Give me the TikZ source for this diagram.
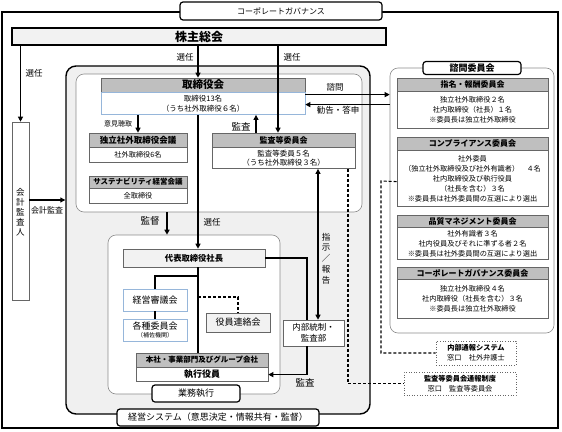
\documentclass[tikz,border=0pt]{standalone}
\usepackage{fontspec}
\setmainfont{Noto Sans CJK JP}
\usetikzlibrary{arrows.meta,positioning}
\definecolor{lineblue}{RGB}{150,182,218}
\tikzset{
  every picture/.style={line width=0.75pt},
  outerframe/.style={draw=black, line width=1.4pt},
  panel/.style={draw=black!45, line width=0.6pt, rounded corners=8pt, fill=white, inner sep=0pt},
  tag/.style={draw=black, line width=1.2pt, rounded corners=3pt, fill=white, inner sep=0pt},
  head/.style={draw=black!60, line width=0.6pt, fill=black!25, inner sep=0pt, font=\bfseries\fontsize{8}{9}\selectfont},
  body/.style={draw=black!60, line width=0.6pt, fill=white, inner sep=0pt, align=center, font=\fontsize{7.2}{10}\selectfont},
  lightbox/.style={draw=black!60, line width=0.6pt, fill=black!5, inner sep=0pt, align=center},
  bluebox/.style={draw=lineblue, line width=0.8pt, fill=white, inner sep=0pt, align=center},
  mailbox/.style={draw=black!60, line width=0.6pt, dotted, fill=white, inner sep=0pt, align=center, font=\fontsize{7.2}{10}\selectfont},
  link/.style={line width=1.1pt},
  arr/.style={line width=1.1pt, -{Triangle[length=5pt,width=5pt]}},
  dlink/.style={line width=1.1pt, dash pattern=on 3pt off 2pt},
  lbl/.style={inner sep=0pt, font=\fontsize{8.5}{9}\selectfont},
}

\begin{document}
\begin{tikzpicture}[x=1pt,y=-1pt]
    \useasboundingbox (0,0) rectangle (562,431);

    % Corporate governance frame
    \draw[outerframe] (2,12) rectangle (558,428);

    % Frames
    \node[outerframe, rounded corners=10pt, fill=black!6, minimum width=304pt, minimum height=348pt] (mainframe) at (218,240) {};
    \node[panel, minimum width=286pt, minimum height=138pt] (boardframe) at (219,143) {};
    \node[panel, minimum width=172pt, minimum height=159pt] (opsframe) at (194,314.5) {};
    \node[panel, minimum width=164pt, minimum height=265pt] (advframe) at (472,200.5) {};

    % Shareholders meeting and auditor
    \node[lightbox, draw=black, line width=1.2pt, minimum width=374pt, minimum height=17pt, font=\bfseries\fontsize{12}{12}\selectfont] (gsm) at (199,36.5) {株主総会};
    \node[draw=black!60, line width=0.6pt, fill=white, inner sep=0pt, minimum width=17pt, minimum height=178pt] (auditor) at (20.5,211) {};
    \foreach \c [count=\i] in {会,計,監,査,人}
        \node[lbl] (auditor\i) at (20.5,{192+10*(\i-1)}) {\c};

    % Board and its meetings
    \node[head, minimum width=204pt, minimum height=14pt, font=\bfseries\fontsize{10.5}{11}\selectfont] (boardh) at (203,85) {取締役会};
    \node[body, draw=lineblue, minimum width=204pt, minimum height=22pt, below=0pt of boardh, font=\fontsize{7.5}{9.5}\selectfont] (boardb) {取締役13名\\（うち社外取締役６名）};
    \node[head, minimum width=98pt, minimum height=14pt, font=\bfseries\fontsize{8.5}{9}\selectfont] (indh) at (138,140) {独立社外取締役会議};
    \node[body, minimum width=98pt, minimum height=15pt, below=0pt of indh] (indb) {社外取締役6名};
    \node[head, minimum width=98pt, minimum height=12pt, font=\bfseries\fontsize{7.5}{9}\selectfont] (sush) at (138,182) {サステナビリティ経営会議};
    \node[body, minimum width=98pt, minimum height=15pt, below=0pt of sush] (susb) {全取締役};
    \node[head, minimum width=143pt, minimum height=14pt] (acomh) at (283.5,140) {監査等委員会};
    \node[body, minimum width=143pt, minimum height=21pt, below=0pt of acomh, font=\fontsize{7.5}{9.5}\selectfont] (acomb) {監査等委員５名\\（うち社外取締役３名）};

    % Execution
    \node[lightbox, minimum width=142pt, minimum height=18pt, font=\bfseries\fontsize{8.3}{9}\selectfont] (pres) at (194,258) {代表取締役社長};
    \node[bluebox, minimum width=64pt, minimum height=22pt, font=\fontsize{9}{10}\selectfont] (council) at (155,300) {経営審議会};
    \node[bluebox, minimum width=64pt, minimum height=22pt, font=\fontsize{9}{9}\selectfont] (comms) at (155,330) {各種委員会\\[-1pt]{\fontsize{6}{7}\selectfont （補佐機関）}};
    \node[lightbox, minimum width=64pt, minimum height=19pt, font=\fontsize{9}{10}\selectfont] (liaison) at (238,322.5) {役員連絡会};
    \node[head, minimum width=132pt, minimum height=14pt, font=\bfseries\fontsize{7.5}{9}\selectfont] (hqh) at (202,360) {本社・事業部門及びグループ会社};
    \node[body, minimum width=132pt, minimum height=14pt, below=0pt of hqh, font=\bfseries\fontsize{9}{10}\selectfont] (hqb) {執行役員};
    \node[body, minimum width=61pt, minimum height=26pt, font=\fontsize{8.5}{10.5}\selectfont] (internal) at (313.5,333) {内部統制・\\監査部};

    % Advisory committees
    \node[head, minimum width=151pt, minimum height=13pt] (nomh) at (472.5,84.5) {指名・報酬委員会};
    \node[body, minimum width=151pt, minimum height=37pt, below=0pt of nomh] (nomb) {独立社外取締役２名\\社内取締役（社長）１名\\※委員長は独立社外取締役};
    \node[head, minimum width=151pt, minimum height=13pt] (comph) at (472.5,143.5) {コンプライアンス委員会};
    \node[body, minimum width=151pt, minimum height=56pt, below=0pt of comph] (compb) {社外委員\\（独立社外取締役及び社外有識者）　４名\\社内取締役及び執行役員\\（社長を含む）３名\\※委員長は社外委員間の互選により選出};
    \node[head, minimum width=151pt, minimum height=12pt] (qualh) at (472.5,221) {品質マネジメント委員会};
    \node[body, minimum width=151pt, minimum height=32pt, below=0pt of qualh] (qualb) {社外有識者３名\\社内役員及びそれに準ずる者２名\\※委員長は社外委員間の互選により選出};
    \node[head, minimum width=151pt, minimum height=12pt] (cgch) at (472.5,273) {コーポレートガバナンス委員会};
    \node[body, minimum width=151pt, minimum height=39pt, below=0pt of cgch] (cgcb) {独立社外取締役４名\\社内取締役（社長を含む）３名\\※委員長は独立社外取締役};

    % Whistleblowing
    \node[mailbox, minimum width=80pt, minimum height=24pt] (whistle) at (476,353) {\textbf{内部通報システム}\\窓口　社外弁護士};
    \node[mailbox, minimum width=112pt, minimum height=23pt] (acwhistle) at (460,383.5) {\textbf{監査等委員会通報制度}\\窓口　監査等委員会};

    % Tags
    \node[tag, minimum width=202pt, minimum height=18pt, font=\fontsize{8}{9}\selectfont] (cg) at (281,11) {コーポレートガバナンス};
    \node[tag, minimum width=202pt, minimum height=17pt, font=\fontsize{9}{10}\selectfont] (mgmt) at (218,417.5) {経営システム（意思決定・情報共有・監督）};
    \node[tag, minimum width=88pt, minimum height=17pt, font=\fontsize{9}{10}\selectfont] (exec) at (196,393.5) {業務執行};
    \node[tag, minimum width=98pt, minimum height=13pt, font=\bfseries\fontsize{9}{10}\selectfont] (advisory) at (472,68) {諮問委員会};

    % Connectors
    \coordinate (spine) at (198,0);
    \coordinate (acx) at (278,0);
    \coordinate (upx) at (256,0);
    \coordinate (supv) at (167,0);
    \coordinate (ctlx) at (307,0);
    \coordinate (rep) at (318,0);
    \coordinate (wx) at (381,0);
    \coordinate (acd) at (348,0);
    \coordinate (ask) at ([yshift=9pt]boardb.east);
    \coordinate (reply) at ([yshift=-1pt]boardb.east);
    \coordinate (aud) at ([yshift=11pt]auditor.east);

    \draw[arr] (gsm.south -| auditor.north) -- (auditor.north);
    \draw[arr] (spine |- gsm.south) -- (spine |- boardh.north);
    \draw[arr] (acx |- gsm.south) -- (acx |- acomh.north);
    \draw[arr] (spine |- boardb.south) -- (spine |- pres.north);
    \draw[arr] (boardb.south -| indh.north) -- (indh.north);
    \draw[arr] (upx |- acomh.north) -- (upx |- boardb.south);
    \draw[arr] (ask) -- (ask -| advframe.west);
    \draw[arr] (reply -| advframe.west) -- (reply);
    \draw[arr] (aud) -- (aud -| mainframe.west);
    \draw[arr, line width=2pt] (supv |- boardframe.south) -- (supv |- opsframe.north);
    \draw[link] (pres.east) -| (ctlx |- internal.north);
    \draw[link, {Triangle[length=5pt,width=5pt]}-{Triangle[length=5pt,width=5pt]}] (rep |- acomb.south) -- (rep |- internal.north);
    \draw[arr] (ctlx |- internal.south) |- (hqb.east);
    \draw[link] (spine |- pres.south) -- (spine |- hqh.north);
    \draw[link] (spine |- 0,276) -| (council.north);
    \draw[link] (council) -- (comms);
    \draw[dlink] (spine |- 0,297) -| (liaison.north);
    \draw[dlink] ([yshift=-3pt]compb.west) -- (wx |- 0,181) -- (wx |- whistle.west) -- (whistle.west);
    \draw[dlink] (acd |- acomb.south) |- (acwhistle.west);

    % Labels
    \node[lbl] (l-sel1) at (34,73) {選任};
    \node[lbl] (l-sel2) at (185,57) {選任};
    \node[lbl] (l-sel3) at (292,57) {選任};
    \node[lbl] (l-sel4) at (212,222) {選任};
    \node[lbl, font=\fontsize{7}{8}\selectfont] (l-hear) at (118,124) {意見聴取};
    \node[lbl, font=\fontsize{9.5}{10}\selectfont] (l-aud1) at (241,127) {監査};
    \node[lbl] (l-ask) at (335,87) {諮問};
    \node[lbl] (l-reply) at (338,110) {勧告・答申};
    \node[lbl, font=\fontsize{8}{9}\selectfont] (l-acc) at (47,210) {会計監査};
    \node[lbl, font=\fontsize{9.5}{10}\selectfont] (l-supv) at (150,221) {監督};
    \foreach \c [count=\i] in {指,示,／,報,告}
        \node[lbl] (l-rep\i) at (326,{237+10.8*(\i-1)}) {\c};
    \node[lbl, font=\fontsize{9.5}{10}\selectfont] (l-aud2) at (305,383) {監査};
\end{tikzpicture}
\end{document}
